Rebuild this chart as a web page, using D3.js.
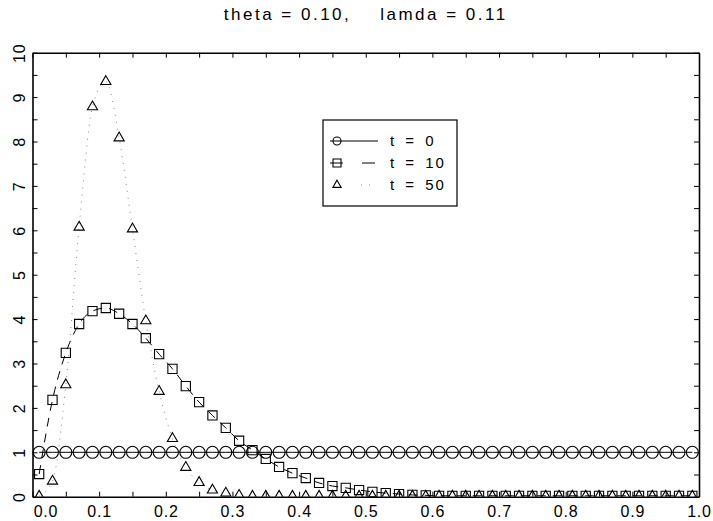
<!DOCTYPE html>
<html>
<head>
<meta charset="utf-8">
<script src="https://cdn.jsdelivr.net/npm/d3@7"></script>
<style>
body { margin: 0; background: #fff; }
text { font-family: "Liberation Sans", Arial, sans-serif; fill: #000; }
</style>
</head>
<body>
<div id="chart"></div>
<script>

// sample positions of the markers
let xValues = [0.01, 0.03, 0.05, 0.07, 0.09, 0.11, 0.13, 0.15, 0.17, 0.19,
	0.21, 0.23, 0.25, 0.27, 0.29, 0.31, 0.33, 0.35, 0.37, 0.39,
	0.41, 0.43, 0.45, 0.47, 0.49, 0.51, 0.53, 0.55, 0.57, 0.59,
	0.61, 0.63, 0.65, 0.67, 0.69, 0.71, 0.73, 0.75, 0.77, 0.79,
	0.81, 0.83, 0.85, 0.87, 0.89, 0.91, 0.93, 0.95, 0.97, 0.99];

let t0Values = [1, 1, 1, 1, 1, 1, 1, 1, 1, 1,
	1, 1, 1, 1, 1, 1, 1, 1, 1, 1,
	1, 1, 1, 1, 1, 1, 1, 1, 1, 1,
	1, 1, 1, 1, 1, 1, 1, 1, 1, 1,
	1, 1, 1, 1, 1, 1, 1, 1, 1, 1];

let t10Values = [0.51, 2.18, 3.24, 3.89, 4.18, 4.25, 4.12, 3.89, 3.57, 3.21,
	2.88, 2.49, 2.13, 1.83, 1.55, 1.26, 1.05, 0.85, 0.67, 0.53,
	0.42, 0.31, 0.24, 0.20, 0.15, 0.11, 0.08, 0.06, 0.04, 0.03,
	0.02, 0.02, 0.02, 0.02, 0.02, 0.02, 0.02, 0.02, 0.02, 0.02,
	0.02, 0.02, 0.02, 0.02, 0.02, 0.02, 0.02, 0.02, 0.02, 0.02];

let t50Values = [0.01, 0.35, 2.52, 6.07, 8.78, 9.35, 8.08, 6.03, 3.96, 2.37,
	1.31, 0.66, 0.32, 0.15, 0.08, 0.03, 0.01, 0.01, 0.01, 0.01,
	0.01, 0.01, 0.01, 0.01, 0.01, 0.01, 0.01, 0.01, 0.01, 0.01,
	0.01, 0.01, 0.01, 0.01, 0.01, 0.01, 0.01, 0.01, 0.01, 0.01,
	0.01, 0.01, 0.01, 0.01, 0.01, 0.01, 0.01, 0.01, 0.01, 0.01];

let xTickValues = [0, 0.1, 0.2, 0.3, 0.4, 0.5, 0.6, 0.7, 0.8, 0.9, 1.0];
let xTickLabels = ["0.0", "0.1", "0.2", "0.3", "0.4", "0.5", "0.6", "0.7", "0.8", "0.9", "1.0"];
let yTickValues = [0, 1, 2, 3, 4, 5, 6, 7, 8, 9, 10];
let yTickLabels = ["0", "1", "2", "3", "4", "5", "6", "7", "8", "9", "10"];
let legendLabels = ["t = 0", "t = 10", "t = 50"];
let titleText = "theta = 0.10,    lamda = 0.11";

function drawCurveChart() {

	let width = 713;
	let height = 521;
	let left = 32.5, right = 699, top = 52.7, bottom = 496.7;

	let svg = d3.select("#chart")
		.append("svg")
		.attr("width", width)
		.attr("height", height);

	// Create scales
	let xScale = d3.scaleLinear().domain([0, 1]).range([left, right]);
	let yScale = d3.scaleLinear().domain([0, 10]).range([bottom, top]);

	let xMinor = d3.range(0, 21).map(i => i * 0.05);
	let yMinor = d3.range(0, 21).map(i => i * 0.5);

	svg.append("text")
		.attr("x", (left + right) / 2)
		.attr("y", 20)
		.attr("text-anchor", "middle")
		.style("font-size", "17px")
		.style("letter-spacing", "2.5px")
		.style("white-space", "pre")
		.text(titleText);

	// frame with inner ticks on all four sides
	let frame = [
		[d3.axisBottom(xScale).tickValues(xMinor), `translate(0, ${bottom})`],
		[d3.axisTop(xScale).tickValues(xMinor), `translate(0, ${top})`],
		[d3.axisLeft(yScale).tickValues(yMinor), `translate(${left}, 0)`],
		[d3.axisRight(yScale).tickValues(yMinor), `translate(${right}, 0)`]
	];
	frame.forEach(([axis, tr]) => {
		let g = svg.append("g")
			.attr("transform", tr)
			.call(axis.tickSizeInner(-5).tickSizeOuter(0).tickFormat(""));
		g.select(".domain").attr("stroke-width", 1.6);
		g.selectAll(".tick line").attr("stroke-width", 1);
	});

	// tick labels
	let xLab = svg.append("g")
		.attr("transform", `translate(0, ${bottom})`)
		.call(d3.axisBottom(xScale).tickValues(xTickValues).tickSize(0)
			.tickFormat((d, i) => xTickLabels[i]));
	xLab.select(".domain").remove();
	xLab.selectAll("text")
		.attr("y", 20.5)
		.attr("dy", 0)
		.attr("dx", (d, i) => i == 0 ? 13 : 0)
		.style("font-size", "16px")
		.style("letter-spacing", "0.8px");

	let yLab = svg.append("g")
		.attr("transform", `translate(${left}, 0)`)
		.call(d3.axisLeft(yScale).tickValues(yTickValues).tickSize(0)
			.tickFormat((d, i) => yTickLabels[i]));
	yLab.select(".domain").remove();
	yLab.selectAll("text")
		.attr("transform", "rotate(-90)")
		.attr("x", 0)
		.attr("y", -8)
		.attr("dy", 0)
		.attr("text-anchor", "middle")
		.style("font-size", "16px")
		.style("letter-spacing", "0.8px");

	svg.append("defs").append("clipPath")
		.attr("id", "plot-clip")
		.append("rect")
		.attr("x", left)
		.attr("y", top)
		.attr("width", right - left)
		.attr("height", bottom - top);

	let plot = svg.append("g").attr("clip-path", "url(#plot-clip)");

	let series = [
		{ values: t0Values, dash: null, stroke: "#000", symbol: d3.symbolCircle, size: 113, legendSize: 50 },
		{ values: t10Values, dash: "9,7", stroke: "#000", symbol: d3.symbolSquare, size: 85, legendSize: 64 },
		{ values: t50Values, dash: "1,6", stroke: "#888", symbol: d3.symbolTriangle, size: 45, legendSize: 30 }
	];

	let line = d3.line()
		.x((d, i) => xScale(xValues[i]))
		.y(d => yScale(d))
		.curve(d3.curveMonotoneX);

	series.forEach(s => {
		plot.append("path")
			.datum(s.values)
			.attr("d", line)
			.attr("fill", "none")
			.attr("stroke", s.stroke)
			.attr("stroke-width", 1)
			.attr("stroke-dasharray", s.dash);

		plot.append("g")
			.selectAll("path")
			.data(s.values)
			.join("path")
			.attr("transform", (d, i) => `translate(${xScale(xValues[i])}, ${yScale(d)})`)
			.attr("d", d3.symbol().type(s.symbol).size(s.size))
			.attr("fill", "none")
			.attr("stroke", "#000")
			.attr("stroke-width", 1.1);
	});

	// Legend
	let legend = svg.append("g");
	legend.append("rect")
		.attr("x", 323)
		.attr("y", 120)
		.attr("width", 134)
		.attr("height", 86)
		.attr("fill", "#fff")
		.attr("stroke", "#000")
		.attr("stroke-width", 1.2);

	let legendDash = [null, "13,19", "0,31,1,7,1,100"];
	series.forEach((s, i) => {
		let yRow = 141 + i * 22;
		legend.append("line")
			.attr("x1", 330)
			.attr("x2", 378)
			.attr("y1", yRow)
			.attr("y2", yRow)
			.attr("stroke", s.stroke)
			.attr("stroke-width", 1)
			.attr("stroke-dasharray", legendDash[i]);
		legend.append("path")
			.attr("transform", `translate(337, ${yRow})`)
			.attr("d", d3.symbol().type(s.symbol).size(s.legendSize))
			.attr("fill", "none")
			.attr("stroke", "#000")
			.attr("stroke-width", 1.1);
		legend.append("text")
			.attr("x", 390)
			.attr("y", yRow + 5)
			.style("font-size", "15px")
			.style("letter-spacing", "2px")
			.style("word-spacing", "3px")
			.text(legendLabels[i]);
	});
}

drawCurveChart();
</script>
</body>
</html>
